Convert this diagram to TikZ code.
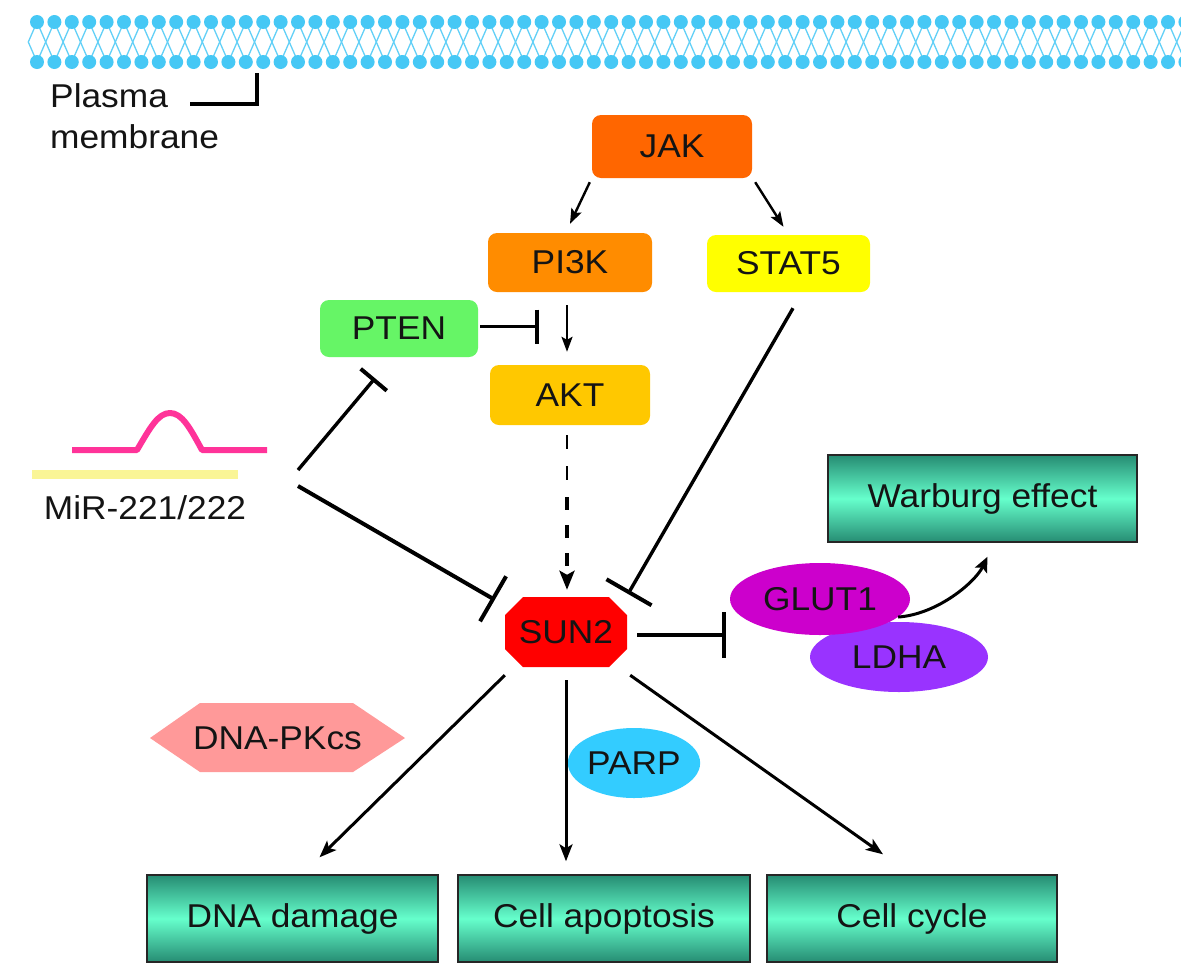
\documentclass[tikz,border=0pt]{standalone}
\usepackage{fontspec}
\setmainfont{Liberation Sans}[FakeStretch=1.07]
\usetikzlibrary{arrows.meta,shapes.geometric,calc}
\newcommand\myfs{\fontsize{33pt}{41pt}\selectfont}
\definecolor{mem}{RGB}{70,200,245}
\definecolor{jakc}{RGB}{255,102,0}
\definecolor{pi3kc}{RGB}{255,140,0}
\definecolor{statc}{RGB}{255,255,0}
\definecolor{ptenc}{RGB}{102,245,102}
\definecolor{aktc}{RGB}{255,200,0}
\definecolor{sunc}{RGB}{255,0,0}
\definecolor{glutc}{RGB}{204,0,204}
\definecolor{ldhac}{RGB}{153,51,255}
\definecolor{parpc}{RGB}{51,204,255}
\definecolor{pkc}{RGB}{255,153,153}
\definecolor{mirp}{RGB}{255,51,153}
\definecolor{miry}{RGB}{250,245,150}
\definecolor{tealdk}{RGB}{38,140,115}
\definecolor{aqua}{RGB}{102,255,204}
\definecolor{txt}{RGB}{20,20,20}
\begin{document}
\begin{tikzpicture}[x=1pt,y=-1pt,
  every node/.style={font=\myfs, text=txt, inner sep=0pt},
  protein/.style={rounded corners=9pt, minimum width=160pt, minimum height=59pt},
  outbox/.style={draw=black!85, line width=1.4pt, top color=tealdk, bottom color=tealdk, middle color=aqua, minimum width=291pt, minimum height=87pt},
  blob/.style={ellipse},
  thinact/.style={line width=2.4pt, -{Stealth[length=15pt,width=11pt,inset=3pt]}},
  act/.style={line width=3pt, -{Stealth[length=17pt,width=13pt,inset=4pt]}},
  inh/.style={line width=3.4pt, -{Bar[width=#1, line width=4pt]}},
]
\fill[white] (0,0) rectangle (1181,978);
\useasboundingbox (0,0) rectangle (1181,978);

% membrane
\begin{scope}
\clip (0,0) rectangle (1181,978);
\foreach \i in {0,...,66}{
  \pgfmathsetmacro\xx{37+17.4*\i}
  \draw[mem!85, line width=1.3pt] (\xx,22) -- (\xx+8.7,42) -- (\xx,62) -- (\xx-8.7,42) -- cycle;
  \fill[mem] (\xx,22) circle[radius=7pt];
  \fill[mem] (\xx,62) circle[radius=7pt];
}
\end{scope}
\node[anchor=base west, align=left] (plasma) at (50,148) {Plasma\\membrane};
\draw[line width=3.2pt] (190,104) -- (257,104) -- (257,73);

% nodes
\node[protein, fill=jakc, minimum width=160pt, minimum height=63pt] (jak) at (672,146.5) {JAK};
\node[protein, fill=pi3kc, minimum width=164pt] (pi3k) at (570,262.5) {PI3K};
\node[protein, fill=statc, minimum width=163pt, minimum height=57pt] (stat) at (788.5,263.5) {STAT5};
\node[protein, fill=ptenc, minimum width=158pt, minimum height=57pt] (pten) at (399,328.5) {PTEN};
\node[protein, fill=aktc, minimum height=60pt] (akt) at (570,395) {AKT};

\fill[sunc] (505,615) -- (523,597) -- (609,597) -- (627,615) -- (627,649) -- (609,667) -- (523,667) -- (505,649) -- cycle;
\node[minimum width=122pt, minimum height=70pt] (sun) at (566,632) {SUN2};

\node[blob, fill=ldhac, minimum width=178pt, minimum height=70pt] (ldha) at (899,657) {LDHA};
\node[blob, fill=glutc, minimum width=180pt, minimum height=72pt] (glut) at (820,599) {GLUT1};

\node[outbox, minimum width=309pt] (warb) at (982.5,498.5) {Warburg effect};
\node[outbox] (dnad) at (292.5,918.5) {DNA damage};
\node[outbox, minimum width=292pt] (apop) at (604,918.5) {Cell apoptosis};
\node[outbox, minimum width=290pt] (cyc) at (912,918.5) {Cell cycle};

\fill[pkc] (150,738) -- (200,703) -- (353,703) -- (405,738) -- (353,772) -- (200,772) -- cycle;
\node (pk) at (277.5,738) {DNA-PKcs};
\node[blob, fill=parpc, minimum width=115pt, minimum height=70pt] (parp) at (634,763) {PARP};

% miR symbol
\draw[miry, line width=9pt] (32,474) -- (238,474);
\draw[mirp, line width=6pt, line join=round] (72,450) -- (137,450) .. controls (150,428) and (158,413) .. (170,413) .. controls (182,413) and (190,428) .. (202,450) -- (267,450);
\node (mir) at (145,508) {MiR-221/222};
\coordinate (mirA) at (298,470);
\coordinate (mirB) at (298,486);

% connectors
\draw[thinact] ([shift={(-2,4)}]jak.south west) -- ([shift={(0,-9)}]pi3k.north);
\draw[thinact] ([shift={(3,4)}]jak.south east) -- ([shift={(-5,-8)}]stat.north);
\draw[thinact] ([shift={(-3,13)}]pi3k.south) -- ([shift={(-3,-13)}]akt.north);
\draw[inh=34pt] ([shift={(2,-2)}]pten.east) -- ([shift={(61,-2)}]pten.east);

\coordinate (dmid) at (567,490);
\draw[line width=2.4pt, dash pattern=on 14pt off 17pt] ([shift={(-3,10)}]akt.south) -- (dmid);
\draw[line width=4.5pt, dash pattern=on 13pt off 15pt, -{Stealth[length=19pt,width=15pt,inset=4pt]}] ([shift={(0,7)}]dmid) -- ([shift={(1,-7)}]sun.north);

\draw[inh=52pt] ([shift={(4.5,16)}]stat.south) -- ([shift={(62,-38)}]sun.center);
\draw[inh=34pt] (mirA) -- ([shift={(-24,21)}]pten.south);
\draw[inh=52pt, line width=4pt] (mirB) -- ([shift={(-10,3)}]sun.north west);
\draw[inh=46pt, line width=4.5pt] ([shift={(10,3)}]sun.east) -- ([shift={(-4,36)}]glut.west);

\draw[line width=3pt, -{Stealth[length=15pt,width=13pt,inset=3pt]}] (glut.-13) .. controls +(40,-3) and +(-12,25) .. ([shift={(5,14)}]warb.south);

\draw[act] ([shift={(0,8)}]sun.south west) -- ([shift={(27,-17)}]dnad.north);
\draw[act] ([shift={(0,13)}]sun.south) -- ([shift={(-38,-13)}]apop.north);
\draw[act] ([shift={(3,8)}]sun.south east) -- ([shift={(-29,-20)}]cyc.north);
\end{tikzpicture}
\end{document}
